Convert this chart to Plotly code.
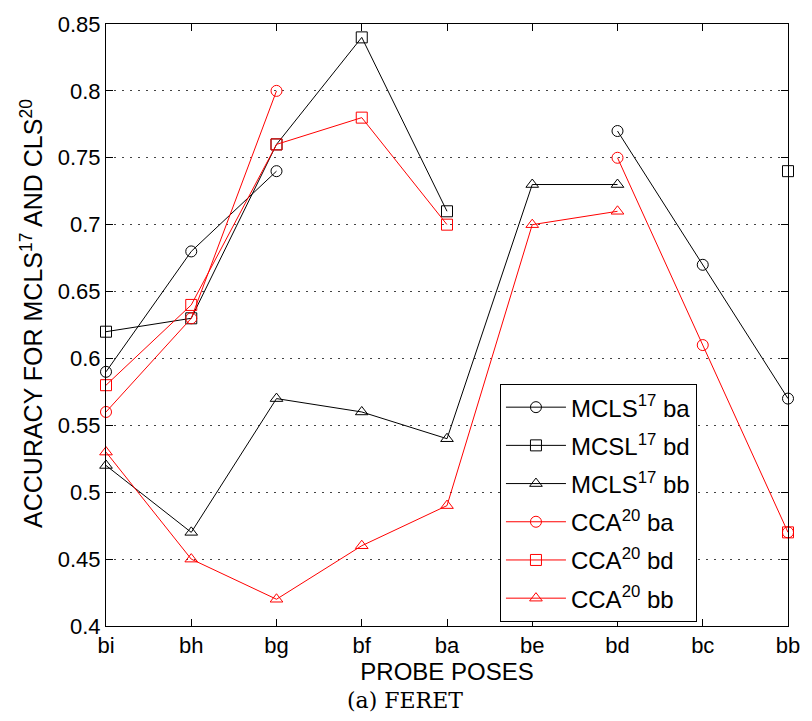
import plotly.graph_objects as go

# Probe poses along the x axis
poses = ["bi", "bh", "bg", "bf", "ba", "be", "bd", "bc", "bb"]

# Recognition accuracy per probe pose (None = not evaluated)
mcls_ba = [0.59, 0.68, 0.74, None, None, None, 0.77, 0.67, 0.57]
mcsl_bd = [0.62, 0.63, 0.76, 0.84, 0.71, None, None, None, 0.74]
mcls_bb = [0.52, 0.47, 0.57, 0.56, 0.54, 0.73, 0.73, None, None]
cca_ba = [0.56, 0.63, 0.80, None, None, None, 0.75, 0.61, 0.47]
cca_bd = [0.58, 0.64, 0.76, 0.78, 0.70, None, None, None, 0.47]
cca_bb = [0.53, 0.45, 0.42, 0.46, 0.49, 0.70, 0.71, None, None]

y_ticks = [0.4, 0.45, 0.5, 0.55, 0.6, 0.65, 0.7, 0.75, 0.8, 0.85]
y_tick_text = ["0.4", "0.45", "0.5", "0.55", "0.6", "0.65", "0.7", "0.75", "0.8", "0.85"]

series = [
    ("MCLS<sup>17</sup> ba", mcls_ba, "black", "circle-open"),
    ("MCSL<sup>17</sup> bd", mcsl_bd, "black", "square-open"),
    ("MCLS<sup>17</sup> bb", mcls_bb, "black", "triangle-up-open"),
    ("CCA<sup>20</sup> ba", cca_ba, "red", "circle-open"),
    ("CCA<sup>20</sup> bd", cca_bd, "red", "square-open"),
    ("CCA<sup>20</sup> bb", cca_bb, "red", "triangle-up-open"),
]

x_pos = list(range(len(poses)))

# plot-area box in pixels
L, R, T, B = 106, 795, 14, 626
W, H = 812, 721
pw, ph = R - L, B - T

fig = go.Figure()
for i, (name, vals, color, symbol) in enumerate(series):
    fig.add_trace(go.Scatter(
        x=x_pos, y=vals, name=name, mode="lines+markers",
        legendgroup=f"g{i}",
        line=dict(color=color, width=1),
        marker=dict(symbol=symbol, size=11, color=color, line=dict(color=color, width=1)),
        connectgaps=False, cliponaxis=False,
    ))

font_family = "Liberation Sans, Arial, sans-serif"

fig.update_layout(
    width=W, height=H,
    margin=dict(l=L, r=W - R, t=T, b=H - B),
    paper_bgcolor="white", plot_bgcolor="white",
    font=dict(family=font_family, size=22, color="black"),
    showlegend=True,
    legend=dict(
        x=(504 - L) / pw, y=(B - 622) / ph, xanchor="left", yanchor="bottom",
        bgcolor="white", bordercolor="black", borderwidth=1,
        font=dict(family=font_family, size=24, color="black"),
        tracegroupgap=4, itemwidth=60,
    ),
    xaxis=dict(
        range=[0, len(poses) - 1],
        tickmode="array", tickvals=x_pos, ticktext=poses,
        ticks="inside", ticklen=7, tickcolor="black", tickwidth=1,
        showline=True, linecolor="black", linewidth=1, mirror="ticks",
        showgrid=False, zeroline=False,
        tickfont=dict(size=22),
        title=dict(text="PROBE POSES", font=dict(family=font_family, size=24), standoff=2),
    ),
    yaxis=dict(
        range=[0.4, 0.85],
        tickmode="array", tickvals=y_ticks, ticktext=y_tick_text,
        ticks="inside", ticklen=7, tickcolor="black", tickwidth=1,
        showline=True, linecolor="black", linewidth=1, mirror="ticks",
        showgrid=True, gridcolor="#444444", griddash="1.5px,6.5px", gridwidth=1,
        zeroline=False,
        tickfont=dict(size=22),
    ),
    annotations=[
        dict(
            text="ACCURACY FOR MCLS<sup>17</sup> AND CLS<sup>20</sup>",
            xref="paper", yref="paper", x=(31 - L) / pw, y=(B - 308) / ph,
            xanchor="center", yanchor="middle", textangle=-90, showarrow=False,
            font=dict(family=font_family, size=25, color="black"),
        ),
        dict(
            text="(a) FERET", xref="paper", yref="paper",
            x=(408 - L) / pw, y=-(702 - B) / ph,
            xanchor="center", yanchor="middle", showarrow=False,
            font=dict(family="DejaVu Serif, serif", size=22, color="black"),
        ),
    ],
)

fig.write_html("out.html")
